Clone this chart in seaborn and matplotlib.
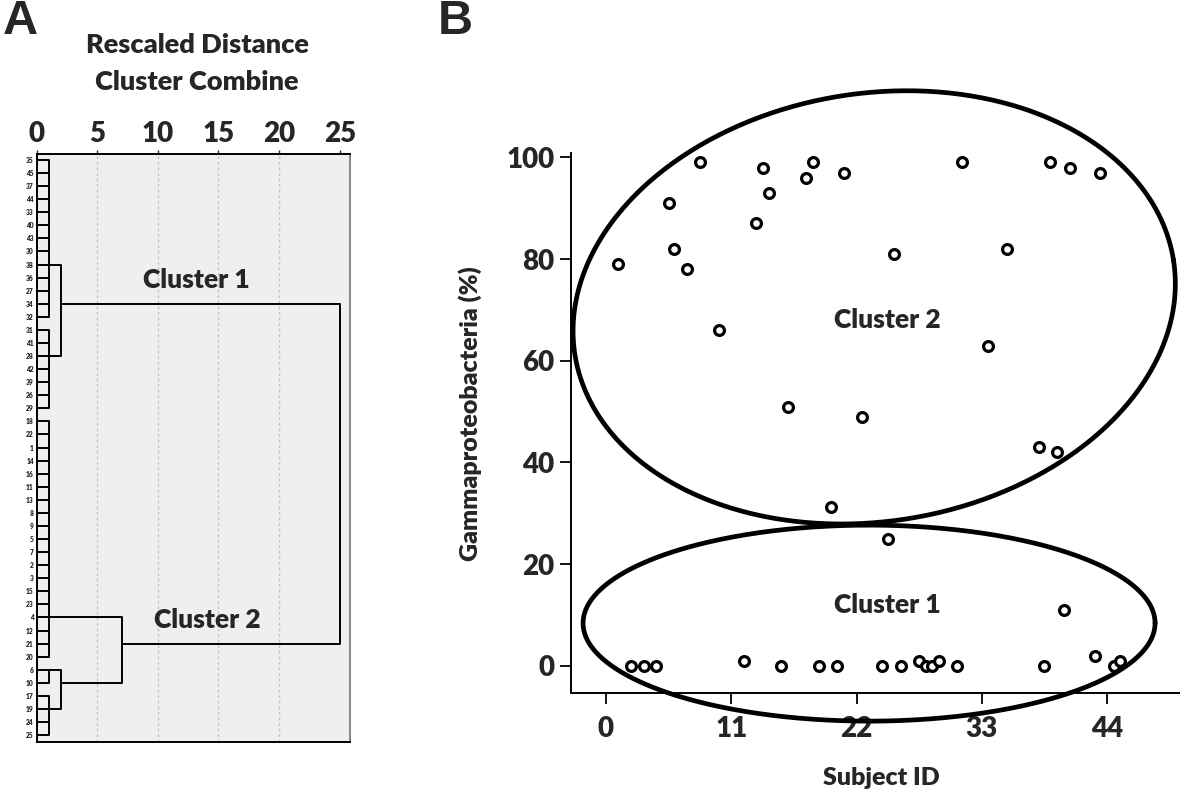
import numpy as np
import matplotlib
matplotlib.use("Agg")
import matplotlib.pyplot as plt
import seaborn as sns
import pandas as pd

# ---- panel A: dendrogram, leaves listed top to bottom ----
leaf_ids = [35, 45, 37, 44, 33, 40, 43, 30, 38, 36, 27, 34, 32,
            31, 41, 28, 42, 39, 26, 29,
            18, 22, 1, 14, 16, 11, 13, 8, 9, 5, 7, 2, 3, 15, 23, 4, 12, 21, 20,
            6, 10, 17, 19, 24, 25]
# first level groups: (first row, last row, merge distance)
leaf_groups = [(0, 12, 1.0), (13, 19, 1.0), (20, 38, 1.0), (39, 40, 1.0), (41, 44, 1.0)]
# higher merges: (child rows, child distances, merge distance)
merges = [((8, 15), (1.0, 1.0), 2.0),
          ((39, 42), (1.0, 1.0), 2.0),
          ((35, 40), (1.0, 2.0), 7.0),
          ((11, 37), (2.0, 7.0), 25.0)]
dist_ticks = [0, 5, 10, 15, 20, 25]

# ---- panel B: scatter ----
subject_id = [1.1, 2.2, 3.3, 4.4, 5.5, 6.0, 7.1, 8.3, 9.9, 12.1, 13.2, 13.8, 14.3, 15.4,
              16.0, 17.6, 18.2, 18.7, 19.8, 20.3, 20.9, 22.5, 24.2, 24.8, 25.3, 25.9,
              27.5, 28.1, 28.6, 29.2, 30.8, 31.3, 33.5, 35.2, 38.0, 38.5, 39.0, 39.6,
              40.2, 40.7, 42.9, 43.4, 44.6, 45.1]
gamma_pct = [79, 0, 0, 0, 91, 82, 78, 99, 66, 1, 87, 98, 93, 0,
             51, 96, 99, 0, 31.3, 0, 97, 49, 0, 25, 81, 0,
             1, 0, 0, 1, 0, 99, 63, 82, 43, 0, 99, 42,
             11, 98, 2, 97, 0, 1]
x_ticks = [0, 11, 22, 33, 44]
y_ticks = [0, 20, 40, 60, 80, 100]

sns.set_style("white")
plt.rcParams['font.family'] = ['Lato', 'DejaVu Sans']
BOLD = 'heavy'

W, H = 1180, 798
fig = plt.figure(figsize=(W / 100, H / 100), dpi=100)

# ================= panel A =================
axA = fig.add_axes([36.7 / W, 1 - 742 / H, (350 - 36.7) / W, (742 - 154) / H])
axA.set_facecolor('#efefef')
lw = 1.4
for first, last, h in leaf_groups:
    for r in range(first, last + 1):
        axA.plot([0, h], [r, r], color='black', lw=lw, solid_capstyle='butt')
    axA.plot([h, h], [first, last], color='black', lw=lw)
for rows, heights, h in merges:
    for r, ch in zip(rows, heights):
        axA.plot([ch, h], [r, r], color='black', lw=lw, solid_capstyle='butt')
    axA.plot([h, h], [min(rows), max(rows)], color='black', lw=lw)

for g in dist_ticks[1:-1]:
    axA.axvline(g, color='#c4c4c4', lw=1.0, ls=(0, (2, 2)), zorder=0)

axA.set_xlim(0, 25.85)
axA.set_ylim(44.53, -0.46)
axA.xaxis.tick_top()
axA.set_xticks(dist_ticks)
axA.set_xticklabels([str(t) for t in dist_ticks], fontsize=20, fontweight=BOLD)
axA.tick_params(axis='x', length=3, width=1, pad=2)
axA.set_yticks(range(len(leaf_ids)))
axA.set_yticklabels([str(i) for i in leaf_ids], fontsize=4.8, fontweight=BOLD)
axA.tick_params(axis='y', length=0, pad=2)
for s in axA.spines.values():
    s.set_color('black')
    s.set_linewidth(1.4)
axA.spines['right'].set_color('#888888')

axA.text(13.2, 9.2, 'Cluster 1', fontsize=19, fontweight=BOLD, ha='center', va='center')
axA.text(14.1, 35.2, 'Cluster 2', fontsize=19, fontweight=BOLD, ha='center', va='center')

fig.text(197 / W, 1 - 45 / H, 'Rescaled Distance', fontsize=19.5, fontweight=BOLD, ha='center', va='center')
fig.text(197 / W, 1 - 82 / H, 'Cluster Combine', fontsize=19.5, fontweight=BOLD, ha='center', va='center')
fig.text(20 / W, 1 - 21 / H, 'A', fontsize=35, fontweight='bold', ha='center', va='center',
         family=['Liberation Sans', 'DejaVu Sans'])
fig.text(455 / W, 1 - 21 / H, 'B', fontsize=35, fontweight='bold', ha='center', va='center',
         family=['Liberation Sans', 'DejaVu Sans'])

# ================= panel B =================
axB = fig.add_axes([571 / W, 1 - 693.3 / H, (W - 571) / W, (693.3 - 153.3) / H])
df = pd.DataFrame({'Subject ID': subject_id, 'Gamma': gamma_pct})
sns.scatterplot(data=df, x='Subject ID', y='Gamma', ax=axB, s=50, marker='o',
                facecolor='white', edgecolor='black', linewidth=2.3, zorder=3)
axB.set_xlim(-3.07, 50.4)
axB.set_ylim(-5.4, 100.8)
axB.set_xticks(x_ticks)
axB.set_yticks(y_ticks)
axB.set_xticklabels([str(t) for t in x_ticks], fontsize=20, fontweight=BOLD)
axB.set_yticklabels([str(t) for t in y_ticks], fontsize=20, fontweight=BOLD)
axB.tick_params(axis='both', direction='out', length=8, width=1.3, color='black', pad=4, bottom=True, left=True)
axB.tick_params(axis='x', pad=8)
for side in ['top', 'right']:
    axB.spines[side].set_visible(False)
for side in ['left', 'bottom']:
    axB.spines[side].set_color('black')
    axB.spines[side].set_linewidth(1.4)
axB.set_xlabel('')
axB.set_ylabel('')

# pixels per data unit (to draw round-looking ellipses)
px_x = (W - 571) / (50.4 + 3.07)
px_y = (693.3 - 153.3) / (100.8 + 5.4)


def ellipse_xy(cx, cy, a_px, b_px, angle_deg):
    t = np.linspace(0, 2 * np.pi, 500)
    th = np.deg2rad(angle_deg)
    ex = a_px * np.cos(t) * np.cos(th) - b_px * np.sin(t) * np.sin(th)
    ey = a_px * np.cos(t) * np.sin(th) + b_px * np.sin(t) * np.cos(th)
    return cx + ex / px_x, cy + ey / px_y


for cx, cy, a, b, ang in [(23.55, 70.5, 303, 214, 9), (23.1, 8.4, 286, 98, 0)]:
    ex, ey = ellipse_xy(cx, cy, a, b, ang)
    axB.plot(ex, ey, color='black', lw=3.4, clip_on=False, zorder=2)

axB.text(24.7, 68, 'Cluster 2', fontsize=19, fontweight=BOLD, ha='center', va='center')
axB.text(24.7, 11.9, 'Cluster 1', fontsize=19, fontweight=BOLD, ha='center', va='center')

fig.text(470 / W, 1 - 414 / H, 'Gammaproteobacteria (%)', fontsize=18, fontweight=BOLD,
         rotation=90, ha='center', va='center')
fig.text(881 / W, 1 - 778 / H, 'Subject ID', fontsize=18, fontweight=BOLD, ha='center', va='center')

fig.savefig('out.png', dpi=100)
